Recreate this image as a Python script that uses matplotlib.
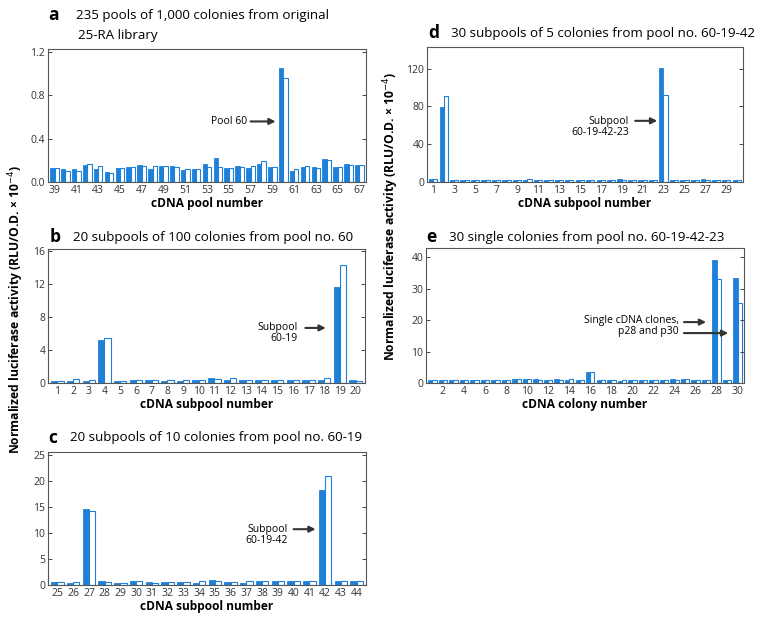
import matplotlib
matplotlib.use("Agg")
import matplotlib.pyplot as plt
import numpy as np

plt.rcParams['font.family'] = ['Open Sans', 'DejaVu Sans']

# panel a: pools 39..67
a_pools = list(range(39, 68))
a_filled = [0.13, 0.12, 0.12, 0.16, 0.12, 0.09, 0.13, 0.14, 0.16, 0.12, 0.15, 0.15, 0.11, 0.12, 0.17,
            0.22, 0.13, 0.15, 0.13, 0.17, 0.14, 1.05, 0.10, 0.14, 0.14, 0.21, 0.14, 0.17, 0.16]
a_open = [0.13, 0.10, 0.10, 0.17, 0.15, 0.08, 0.13, 0.14, 0.15, 0.15, 0.15, 0.14, 0.12, 0.12, 0.14,
          0.14, 0.13, 0.14, 0.15, 0.19, 0.14, 0.96, 0.12, 0.15, 0.13, 0.20, 0.14, 0.16, 0.16]

# panel b: subpools 1..20
b_pools = list(range(1, 21))
b_filled = [0.3, 0.3, 0.2, 5.2, 0.3, 0.4, 0.4, 0.3, 0.3, 0.4, 0.6, 0.4, 0.4, 0.4, 0.4, 0.4, 0.4, 0.4, 11.7, 0.4]
b_open = [0.3, 0.5, 0.4, 5.5, 0.3, 0.4, 0.4, 0.4, 0.4, 0.4, 0.5, 0.6, 0.4, 0.4, 0.4, 0.4, 0.4, 0.6, 14.4, 0.3]

# panel c: subpools 25..44
c_pools = list(range(25, 45))
c_filled = [0.5, 0.4, 14.6, 0.8, 0.4, 0.7, 0.6, 0.5, 0.6, 0.4, 0.9, 0.6, 0.4, 0.7, 0.7, 0.8, 0.8, 18.3, 0.7, 0.7]
c_open = [0.5, 0.6, 14.2, 0.6, 0.4, 0.7, 0.4, 0.5, 0.5, 0.7, 0.7, 0.6, 0.7, 0.7, 0.8, 0.8, 0.8, 20.9, 0.7, 0.7]

# panel d: subpools 1..30
d_pools = list(range(1, 31))
d_filled = [3, 79, 2, 2, 2, 2, 2, 2, 2, 2.5, 2, 2, 2, 2, 2.5, 2, 2, 2, 3, 2, 2, 2, 121, 2, 2, 2, 3.5, 2, 2, 2]
d_open = [3, 91, 2, 2.5, 2.5, 2, 2, 2, 2, 3, 2, 2.5, 2.5, 2.5, 2, 2, 2, 2, 2, 2, 2, 2, 92, 2, 2, 2, 2, 2, 2, 2]

# panel e: colonies 1..30
e_cols = list(range(1, 31))
e_filled = [1.0, 0.9, 1.0, 0.8, 0.9, 1.0, 0.9, 0.8, 1.2, 1.3, 1.2, 1.0, 1.3, 1.0, 1.0, 3.4, 0.9, 0.8, 0.7, 1.0,
            1.0, 0.9, 1.0, 1.2, 1.3, 0.9, 0.9, 39.3, 0.9, 33.5]
e_open = [1.0, 1.0, 0.9, 0.9, 1.0, 1.0, 1.0, 1.0, 1.2, 1.2, 1.0, 1.1, 1.1, 1.2, 1.0, 3.4, 0.8, 0.8, 0.9, 0.9,
          1.0, 0.8, 1.0, 1.1, 1.2, 0.9, 1.1, 33.0, 1.1, 25.5]

BLUE = '#1f80d8'
W, H = 762, 644

fig = plt.figure(figsize=(W / 100, H / 100), dpi=100)


def px_axes(l, r, t, b):
    return fig.add_axes([l / W, 1 - b / H, (r - l) / W, (b - t) / H])


def panel(ax, x, f, o, ylim, yticks, xticks, xlabel, fmt=None):
    x = np.array(x)
    bw = 0.4
    ax.bar(x - bw / 2, f, width=bw, color=BLUE, edgecolor=BLUE, linewidth=0.6)
    ax.bar(x + bw / 2, o, width=bw, color='white', edgecolor=BLUE, linewidth=0.8)
    ax.set_xlim(x[0] - 0.6, x[-1] + 0.6)
    ax.set_ylim(*ylim)
    ax.set_yticks(yticks)
    if fmt:
        ax.set_yticklabels([fmt % v for v in yticks])
    ax.set_xticks(xticks)
    ax.tick_params(axis='x', length=0, labelsize=7.5, pad=2, colors='#333')
    ax.tick_params(axis='y', direction='in', right=True, length=3, width=0.7,
                   labelsize=7.5, pad=2, colors='#444', labelcolor='#333')
    for s in ax.spines.values():
        s.set_color('#555')
        s.set_linewidth(0.8)
    ax.set_xlabel(xlabel, fontsize=8.6, fontweight='bold', labelpad=1)


def arrow(ax, x0, x1, y):
    ax.annotate('', xy=(x1, y), xytext=(x0, y),
                arrowprops=dict(arrowstyle='-|>', color='#333', lw=1.5, mutation_scale=9,
                                shrinkA=0, shrinkB=0))


ax_a = px_axes(48, 366, 49, 182)
panel(ax_a, a_pools, a_filled, a_open, (0, 1.23), [0, 0.4, 0.8, 1.2], a_pools[::2],
      'cDNA pool number', '%.1f')
ax_a.text(56.7, 0.56, 'Pool 60', ha='right', va='center', fontsize=7.5)
arrow(ax_a, 57.0, 59.3, 0.56)

ax_b = px_axes(48, 365, 249, 383)
panel(ax_b, b_pools, b_filled, b_open, (0, 16.3), [0, 4, 8, 12, 16], b_pools,
      'cDNA subpool number')
ax_b.text(16.3, 7.4, 'Subpool\n60-19', ha='right', va='top', fontsize=7.5,
          multialignment='right', linespacing=1.0)
arrow(ax_b, 16.8, 18.1, 6.7)

ax_c = px_axes(48, 366, 452, 585)
panel(ax_c, c_pools, c_filled, c_open, (0, 25.5), [0, 5, 10, 15, 20, 25], c_pools,
      'cDNA subpool number')
ax_c.text(39.65, 11.6, 'Subpool\n60-19-42', ha='right', va='top', fontsize=7.5,
          multialignment='right', linespacing=1.0)
arrow(ax_c, 40.0, 41.4, 10.7)

ax_d = px_axes(427, 743, 47, 182)
panel(ax_d, d_pools, d_filled, d_open, (0, 143), [0, 40, 80, 120], d_pools[::2],
      'cDNA subpool number')
ax_d.text(19.7, 70, 'Subpool\n60-19-42-23', ha='right', va='top', fontsize=7.5,
          multialignment='right', linespacing=1.0)
arrow(ax_d, 20.3, 22.4, 64.8)

ax_e = px_axes(426, 744, 248, 383)
panel(ax_e, e_cols, e_filled, e_open, (0, 43), [0, 10, 20, 30, 40], e_cols[1::2],
      'cDNA colony number')
ax_e.text(24.4, 21.6, 'Single cDNA clones,\np28 and p30', ha='right', va='top', fontsize=7.5,
          multialignment='right', linespacing=1.0)
arrow(ax_e, 24.9, 27.0, 19.4)
arrow(ax_e, 24.9, 29.1, 15.9)


# panel letters and titles
def title(xl, xt, y, letter, text):
    fig.text(xl / W, 1 - y / H, letter, fontsize=12.5, fontweight='bold', va='center', ha='left')
    fig.text(xt / W, 1 - y / H, text, fontsize=9.6, va='center', ha='left')


title(48, 76, 15, 'a', '235 pools of 1,000 colonies from original')
fig.text(78 / W, 1 - 35 / H, '25-RA library', fontsize=9.6, va='center', ha='left')
title(50, 73, 237, 'b', '20 subpools of 100 colonies from pool no. 60')
title(48, 70, 438, 'c', '20 subpools of 10 colonies from pool no. 60-19')
title(428, 451, 33, 'd', '30 subpools of 5 colonies from pool no. 60-19-42')
title(426, 449, 237, 'e', '30 single colonies from pool no. 60-19-42-23')

ylab = 'Normalized luciferase activity (RLU/O.D. \u00d7 10$^{-4}$)'
fig.text(16 / W, 1 - 310 / H, ylab, rotation=90, fontsize=8.7, fontweight='bold',
         ha='center', va='center')
fig.text(391 / W, 1 - 217 / H, ylab, rotation=90, fontsize=8.7, fontweight='bold',
         ha='center', va='center')

fig.savefig('out.png', dpi=100)
